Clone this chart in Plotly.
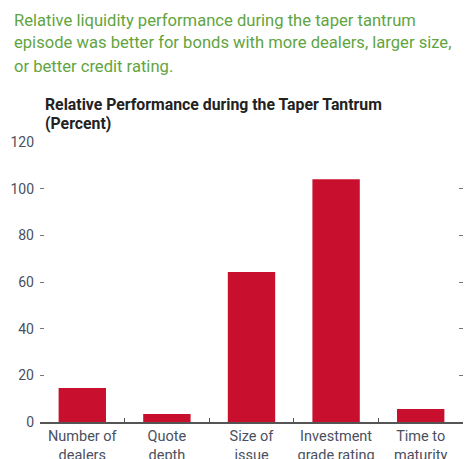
import plotly.graph_objects as go

categories = ["Number of<br>dealers", "Quote<br>depth", "Size of<br>issue", "Investment<br>grade rating", "Time to<br>maturity"]
values = [14.6, 3.4, 64.3, 104, 5.6]
y_ticks = [0, 20, 40, 60, 80, 100, 120]
title_lines = [
    "Relative liquidity performance during the taper tantrum",
    "episode was better for bonds with more dealers, larger size,",
    "or better credit rating.",
]
subtitle_lines = ["Relative Performance during the Taper Tantrum", "(Percent)"]

FONT = "Roboto, Liberation Sans, sans-serif"
W, H = 467, 459
L, R, T, B = 40, 4, 142, 37
pw, ph = W - L - R, H - T - B

def px(x):
    return (x - L) / pw

def py(y):
    return (H - y - B) / ph

fig = go.Figure()
fig.add_trace(go.Bar(x=categories, y=values, marker=dict(color="#C8102E", line=dict(width=0)), width=0.56))
# invisible helper trace so the right-hand tick axis is drawn
fig.add_trace(go.Scatter(x=[categories[0]], y=[y_ticks[0]], yaxis="y2", mode="markers",
                         marker=dict(opacity=0), hoverinfo="skip", showlegend=False))

annotations = []
for i, t in enumerate(title_lines):
    annotations.append(dict(text=t, x=px(12), y=py(20 + 23 * i), xref="paper", yref="paper",
                            showarrow=False, xanchor="left", yanchor="middle",
                            font=dict(size=16.6, color="#62a43f", family=FONT)))
for i, t in enumerate(subtitle_lines):
    annotations.append(dict(text="<b>" + t + "</b>", x=px(43), y=py(104 + 19 * i), xref="paper", yref="paper",
                            showarrow=False, xanchor="left", yanchor="middle",
                            font=dict(size=15.8, color="#222222", family=FONT)))

fig.update_layout(
    width=W, height=H,
    margin=dict(l=L, r=R, t=T, b=B),
    plot_bgcolor="white", paper_bgcolor="white",
    showlegend=False,
    font=dict(family=FONT, color="#4a5060"),
    xaxis=dict(
        showline=True, linecolor="#555555", linewidth=1.5,
        ticks="inside", tickson="boundaries", ticklen=4, tickcolor="#555555",
        tickangle=0, automargin=False,
        tickfont=dict(size=14.5, color="#4a5060", family=FONT),
        showgrid=False, zeroline=False,
    ),
    yaxis=dict(
        range=[0, 120], tickvals=y_ticks, showgrid=False, zeroline=False,
        ticks="inside", ticklen=4, tickcolor="#777777", tickwidth=1,
        showline=False, automargin=False,
        tickfont=dict(size=14, color="#4a5060", family=FONT),
        ticklabelstandoff=5,
    ),
    yaxis2=dict(
        range=[0, 120], tickvals=y_ticks, overlaying="y", side="right", anchor="x",
        showgrid=False, zeroline=False, showline=False, automargin=False,
        ticks="inside", ticklen=4, tickcolor="#777777", tickwidth=1,
        showticklabels=False,
    ),
    annotations=annotations,
)

fig.write_html("out.html",
               config={"displayModeBar": False},
               post_script="document.body.style.margin='0px';document.body.style.overflow='hidden';")
